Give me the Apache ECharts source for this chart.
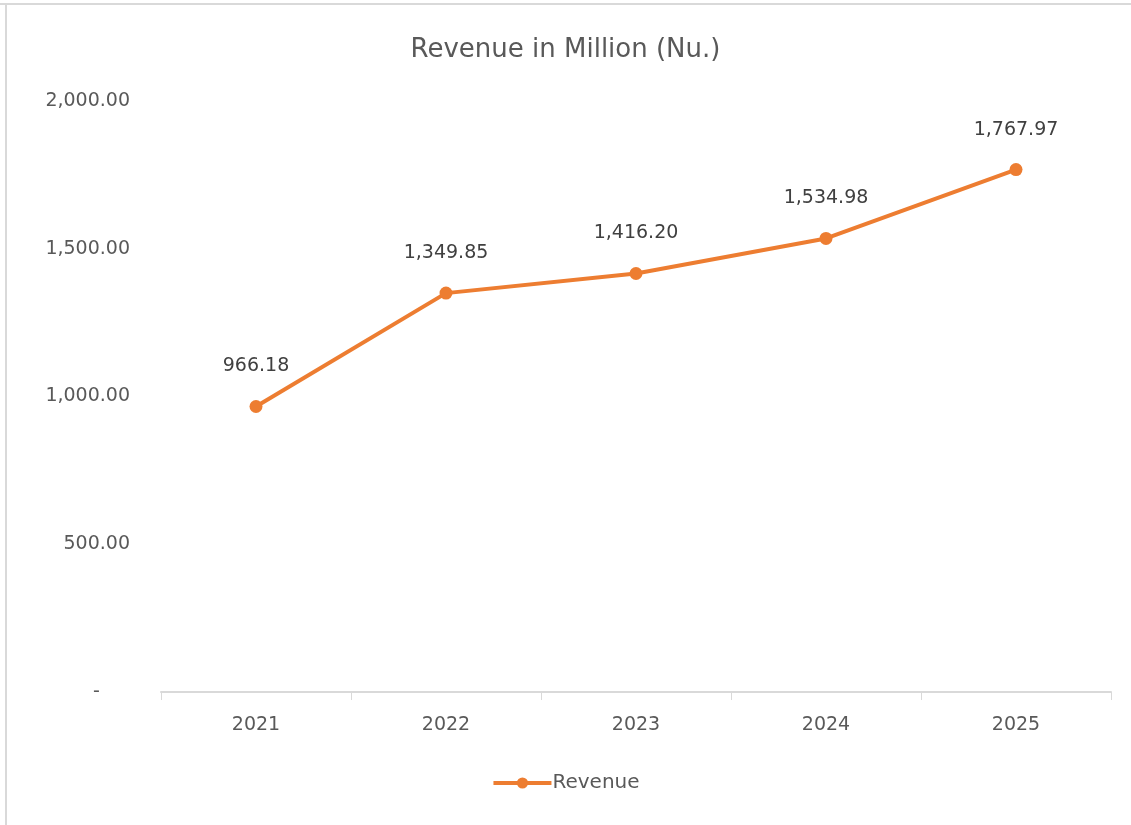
<!DOCTYPE html>
<html>
<head>
<meta charset="utf-8">
<script src="https://cdn.jsdelivr.net/npm/echarts@6/dist/echarts.min.js"></script>
<style>
  html, body { margin: 0; padding: 0; background: #ffffff; }
  #chart { width: 1131px; height: 825px; }
</style>
</head>
<body>
<div id="chart"></div>
<script>
// Annual revenue, million Nu.
const years = ['2021', '2022', '2023', '2024', '2025'];
const revenue = [966.18, 1349.85, 1416.20, 1534.98, 1767.97];
const yTicks = [0, 500, 1000, 1500, 2000];

const FONT = '"DejaVu Sans", "Open Sans", sans-serif';
const TEXT = '#595959';
const ORANGE = '#ED7D31';

function fmt(v) {
  return v.toLocaleString('en-US', { minimumFractionDigits: 2, maximumFractionDigits: 2 });
}

const chart = echarts.init(document.getElementById('chart'), null, { renderer: 'canvas' });
chart.setOption({
  backgroundColor: '#ffffff',
  animation: false,
  title: {
    text: 'Revenue in Million (Nu.)',
    left: 'center',
    top: 32,
    textStyle: { fontFamily: FONT, fontSize: 26, fontWeight: 'normal', color: TEXT }
  },
  legend: {
    bottom: 27,
    left: 'center',
    itemWidth: 58,
    itemHeight: 14,
    itemGap: 0,
    lineStyle: { width: 4 },
    textStyle: { fontFamily: FONT, fontSize: 20, color: TEXT, padding: [0, 0, 0, -4] },
    data: ['Revenue']
  },
  grid: { left: 161, right: 20, top: 101, bottom: 133, containLabel: false },
  xAxis: {
    type: 'category',
    data: years,
    boundaryGap: true,
    axisLine: { lineStyle: { color: '#d9d9d9', width: 2 } },
    axisTick: { show: true, alignWithLabel: false, length: 8, lineStyle: { color: '#d9d9d9', width: 1 } },
    axisLabel: { fontFamily: FONT, fontSize: 19, color: TEXT, margin: 24 },
    splitLine: { show: false }
  },
  yAxis: {
    type: 'value',
    min: yTicks[0],
    max: yTicks[yTicks.length - 1],
    interval: yTicks[1] - yTicks[0],
    axisLine: { show: false },
    axisTick: { show: false },
    splitLine: { show: false },
    axisLabel: {
      fontFamily: FONT, fontSize: 19, color: TEXT, margin: 31,
      formatter: v => v === 0 ? '-     ' : fmt(v)
    }
  },
  series: [{
    name: 'Revenue',
    type: 'line',
    data: revenue,
    color: ORANGE,
    lineStyle: { color: ORANGE, width: 4 },
    itemStyle: { color: ORANGE },
    symbol: 'circle',
    symbolSize: 13,
    label: {
      show: true,
      position: 'top',
      distance: 24,
      fontFamily: FONT,
      fontSize: 19,
      color: '#404040',
      formatter: p => fmt(p.value)
    }
  }],
  graphic: [
    { type: 'line', shape: { x1: 0, y1: 4, x2: 1131, y2: 4 }, style: { stroke: '#d9d9d9', lineWidth: 2 } },
    { type: 'line', shape: { x1: 6, y1: 4, x2: 6, y2: 825 }, style: { stroke: '#d9d9d9', lineWidth: 2 } }
  ]
});
</script>
</body>
</html>
